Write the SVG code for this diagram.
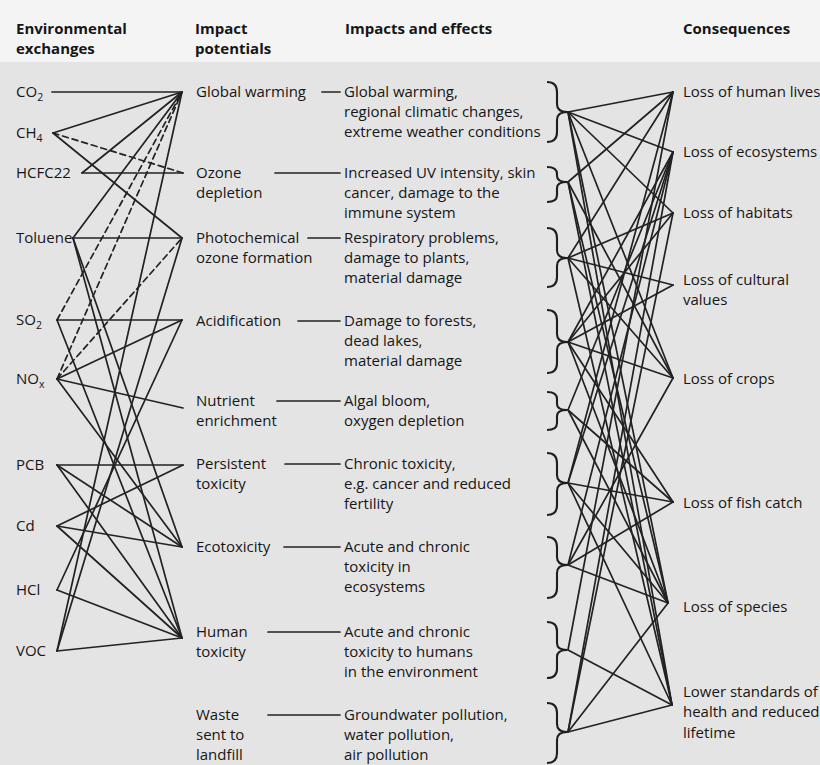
<svg xmlns="http://www.w3.org/2000/svg" width="820" height="765" viewBox="0 0 820 765">
<style>
text{font-family:"Open Sans","Liberation Sans",sans-serif;font-size:15px;fill:#161616}
.h{font-weight:bold}
.s{font-size:10.5px}
.c{stroke:#222;stroke-width:1.7;fill:none;stroke-linecap:round}
.d{stroke-dasharray:6 4}
.b{stroke:#1e1e1e;stroke-width:2.1;fill:none}
</style>
<rect x="0" y="0" width="820" height="765" fill="#e4e4e4"/>
<rect x="0" y="0" width="820" height="62" fill="#f4f4f4"/>

<g id="headers">
<text class="h" x="16" y="34">Environmental</text>
<text class="h" x="16" y="54">exchanges</text>
<text class="h" x="195" y="34">Impact</text>
<text class="h" x="195" y="54">potentials</text>
<text class="h" x="345" y="34">Impacts and effects</text>
<text class="h" x="683" y="34">Consequences</text>
</g>

<g id="connectors">
<!-- exchanges to impact potentials -->
<line class="c" x1="52" y1="92" x2="182" y2="92"/>
<line class="c" x1="53" y1="133" x2="182" y2="92"/>
<line class="c d" x1="53" y1="133" x2="183" y2="173"/>
<line class="c" x1="53" y1="133" x2="182" y2="238"/>
<line class="c" x1="82" y1="173" x2="182" y2="92"/>
<line class="c" x1="82" y1="173" x2="183" y2="173"/>
<line class="c" x1="73" y1="238" x2="182" y2="92"/>
<line class="c" x1="73" y1="238" x2="182" y2="238"/>
<line class="c" x1="73" y1="238" x2="182" y2="547"/>
<line class="c" x1="73" y1="238" x2="182" y2="638"/>
<line class="c d" x1="57" y1="320" x2="182" y2="92"/>
<line class="c" x1="57" y1="320" x2="182" y2="320"/>
<line class="c" x1="57" y1="320" x2="182" y2="638"/>
<line class="c d" x1="57" y1="379" x2="182" y2="92"/>
<line class="c d" x1="57" y1="379" x2="182" y2="238"/>
<line class="c" x1="57" y1="379" x2="182" y2="320"/>
<line class="c" x1="57" y1="379" x2="183" y2="408"/>
<line class="c" x1="57" y1="379" x2="182" y2="547"/>
<line class="c" x1="57" y1="465" x2="183" y2="465"/>
<line class="c" x1="57" y1="465" x2="182" y2="547"/>
<line class="c" x1="57" y1="465" x2="182" y2="638"/>
<line class="c" x1="57" y1="526" x2="183" y2="465"/>
<line class="c" x1="57" y1="526" x2="182" y2="547"/>
<line class="c" x1="57" y1="526" x2="182" y2="638"/>
<line class="c" x1="57" y1="590" x2="182" y2="320"/>
<line class="c" x1="57" y1="590" x2="182" y2="638"/>
<line class="c" x1="57" y1="651" x2="182" y2="92"/>
<line class="c" x1="57" y1="651" x2="182" y2="238"/>
<line class="c" x1="57" y1="651" x2="182" y2="638"/>
<!-- impact potentials to effects -->
<line class="c" x1="322" y1="92" x2="340" y2="92"/>
<line class="c" x1="275" y1="173" x2="340" y2="173"/>
<line class="c" x1="308" y1="238" x2="340" y2="238"/>
<line class="c" x1="298" y1="321" x2="340" y2="321"/>
<line class="c" x1="277" y1="401" x2="340" y2="401"/>
<line class="c" x1="285" y1="464" x2="340" y2="464"/>
<line class="c" x1="284" y1="547" x2="340" y2="547"/>
<line class="c" x1="268" y1="632" x2="340" y2="632"/>
<line class="c" x1="268" y1="715" x2="340" y2="715"/>
<!-- effects to consequences -->
<line class="c" x1="568" y1="112" x2="673" y2="92"/>
<line class="c" x1="568" y1="112" x2="673" y2="152"/>
<line class="c" x1="568" y1="112" x2="673" y2="213"/>
<line class="c" x1="568" y1="112" x2="673" y2="378"/>
<line class="c" x1="568" y1="112" x2="668" y2="603"/>
<line class="c" x1="568" y1="112" x2="672" y2="705"/>
<line class="c" x1="568" y1="182" x2="673" y2="92"/>
<line class="c" x1="568" y1="182" x2="673" y2="378"/>
<line class="c" x1="568" y1="182" x2="668" y2="603"/>
<line class="c" x1="568" y1="182" x2="672" y2="705"/>
<line class="c" x1="568" y1="258" x2="673" y2="92"/>
<line class="c" x1="568" y1="258" x2="673" y2="213"/>
<line class="c" x1="568" y1="258" x2="673" y2="285"/>
<line class="c" x1="568" y1="258" x2="673" y2="378"/>
<line class="c" x1="568" y1="258" x2="672" y2="705"/>
<line class="c" x1="568" y1="342" x2="673" y2="152"/>
<line class="c" x1="568" y1="342" x2="673" y2="213"/>
<line class="c" x1="568" y1="342" x2="673" y2="285"/>
<line class="c" x1="568" y1="342" x2="673" y2="378"/>
<line class="c" x1="568" y1="342" x2="673" y2="502"/>
<line class="c" x1="568" y1="342" x2="668" y2="603"/>
<line class="c" x1="568" y1="410" x2="673" y2="152"/>
<line class="c" x1="568" y1="410" x2="673" y2="502"/>
<line class="c" x1="568" y1="410" x2="668" y2="603"/>
<line class="c" x1="568" y1="483" x2="673" y2="92"/>
<line class="c" x1="568" y1="483" x2="673" y2="152"/>
<line class="c" x1="568" y1="483" x2="673" y2="502"/>
<line class="c" x1="568" y1="483" x2="668" y2="603"/>
<line class="c" x1="568" y1="483" x2="672" y2="705"/>
<line class="c" x1="568" y1="565" x2="673" y2="152"/>
<line class="c" x1="568" y1="565" x2="673" y2="378"/>
<line class="c" x1="568" y1="565" x2="673" y2="502"/>
<line class="c" x1="568" y1="565" x2="668" y2="603"/>
<line class="c" x1="568" y1="650" x2="673" y2="92"/>
<line class="c" x1="568" y1="650" x2="672" y2="705"/>
<line class="c" x1="568" y1="732" x2="673" y2="152"/>
<line class="c" x1="568" y1="732" x2="673" y2="213"/>
<line class="c" x1="568" y1="732" x2="668" y2="603"/>
<line class="c" x1="568" y1="732" x2="672" y2="705"/>
</g>

<g id="ex-co2"><text x="16" y="97">CO<tspan class="s" dy="4">2</tspan></text></g>
<g id="ex-ch4"><text x="16" y="138">CH<tspan class="s" dy="4">4</tspan></text></g>
<g id="ex-hcfc22"><text x="16" y="178">HCFC22</text></g>
<g id="ex-toluene"><text x="16" y="243">Toluene</text></g>
<g id="ex-so2"><text x="16" y="325">SO<tspan class="s" dy="4">2</tspan></text></g>
<g id="ex-nox"><text x="16" y="384">NO<tspan class="s" dy="4">x</tspan></text></g>
<g id="ex-pcb"><text x="16" y="470">PCB</text></g>
<g id="ex-cd"><text x="16" y="531">Cd</text></g>
<g id="ex-hcl"><text x="16" y="595">HCl</text></g>
<g id="ex-voc"><text x="16" y="656">VOC</text></g>

<g id="ip-gw"><text x="196" y="97">Global warming</text></g>
<g id="ip-ozone"><text x="196" y="178">Ozone</text><text x="196" y="198">depletion</text></g>
<g id="ip-photo"><text x="196" y="243">Photochemical</text><text x="196" y="263">ozone formation</text></g>
<g id="ip-acid"><text x="196" y="326">Acidification</text></g>
<g id="ip-nutrient"><text x="196" y="406">Nutrient</text><text x="196" y="426">enrichment</text></g>
<g id="ip-persistent"><text x="196" y="469">Persistent</text><text x="196" y="489">toxicity</text></g>
<g id="ip-eco"><text x="196" y="552">Ecotoxicity</text></g>
<g id="ip-human"><text x="196" y="637">Human</text><text x="196" y="657">toxicity</text></g>
<g id="ip-waste"><text x="196" y="720">Waste</text><text x="196" y="740">sent to</text><text x="196" y="760">landfill</text></g>

<g id="ef-gw"><text x="344" y="97">Global warming,</text><text x="344" y="117">regional climatic changes,</text><text x="344" y="137">extreme weather conditions</text>
<path class="b" d="M547,82 Q557,82 557,92 L557,104 Q557,112 567,112 Q557,112 557,120 L557,132 Q557,142 547,142"/></g>
<g id="ef-ozone"><text x="344" y="178">Increased UV intensity, skin</text><text x="344" y="198">cancer, damage to the</text><text x="344" y="218">immune system</text>
<path class="b" d="M547,167 Q557,167 557,174 L557,176 Q557,182 567,182 Q557,182 557,188 L557,195 Q557,202 547,202"/></g>
<g id="ef-photo"><text x="344" y="243">Respiratory problems,</text><text x="344" y="263">damage to plants,</text><text x="344" y="283">material damage</text>
<path class="b" d="M547,228 Q557,228 557,238 L557,250 Q557,258 567,258 Q557,258 557,266 L557,277 Q557,287 547,287"/></g>
<g id="ef-acid"><text x="344" y="326">Damage to forests,</text><text x="344" y="346">dead lakes,</text><text x="344" y="366">material damage</text>
<path class="b" d="M547,310 Q557,310 557,320 L557,334 Q557,342 567,342 Q557,342 557,350 L557,363 Q557,373 547,373"/></g>
<g id="ef-nutrient"><text x="344" y="406">Algal bloom,</text><text x="344" y="426">oxygen depletion</text>
<path class="b" d="M547,392 Q557,392 557,399 L557,404 Q557,410 567,410 Q557,410 557,416 L557,423 Q557,430 547,430"/></g>
<g id="ef-persistent"><text x="344" y="469">Chronic toxicity,</text><text x="344" y="489">e.g. cancer and reduced</text><text x="344" y="509">fertility</text>
<path class="b" d="M547,453 Q557,453 557,463 L557,475 Q557,483 567,483 Q557,483 557,491 L557,505 Q557,515 547,515"/></g>
<g id="ef-eco"><text x="344" y="552">Acute and chronic</text><text x="344" y="572">toxicity in</text><text x="344" y="592">ecosystems</text>
<path class="b" d="M547,537 Q557,537 557,547 L557,557 Q557,565 567,565 Q557,565 557,573 L557,588 Q557,598 547,598"/></g>
<g id="ef-human"><text x="344" y="637">Acute and chronic</text><text x="344" y="657">toxicity to humans</text><text x="344" y="677">in the environment</text>
<path class="b" d="M547,622 Q557,622 557,631 L557,643 Q557,650 567,650 Q557,650 557,657 L557,669 Q557,678 547,678"/></g>
<g id="ef-waste"><text x="344" y="720">Groundwater pollution,</text><text x="344" y="740">water pollution,</text><text x="344" y="760">air pollution</text>
<path class="b" d="M547,703 Q557,703 557,713 L557,724 Q557,732 567,732 Q557,732 557,740 L557,753 Q557,763 547,763"/></g>

<g id="co-lives"><text x="683" y="97">Loss of human lives</text></g>
<g id="co-ecosystems"><text x="683" y="157">Loss of ecosystems</text></g>
<g id="co-habitats"><text x="683" y="218">Loss of habitats</text></g>
<g id="co-cultural"><text x="683" y="285">Loss of cultural</text><text x="683" y="305">values</text></g>
<g id="co-crops"><text x="683" y="384">Loss of crops</text></g>
<g id="co-fish"><text x="683" y="508">Loss of fish catch</text></g>
<g id="co-species"><text x="683" y="612">Loss of species</text></g>
<g id="co-health"><text x="683" y="697">Lower standards of</text><text x="683" y="717">health and reduced</text><text x="683" y="738">lifetime</text></g>
</svg>
